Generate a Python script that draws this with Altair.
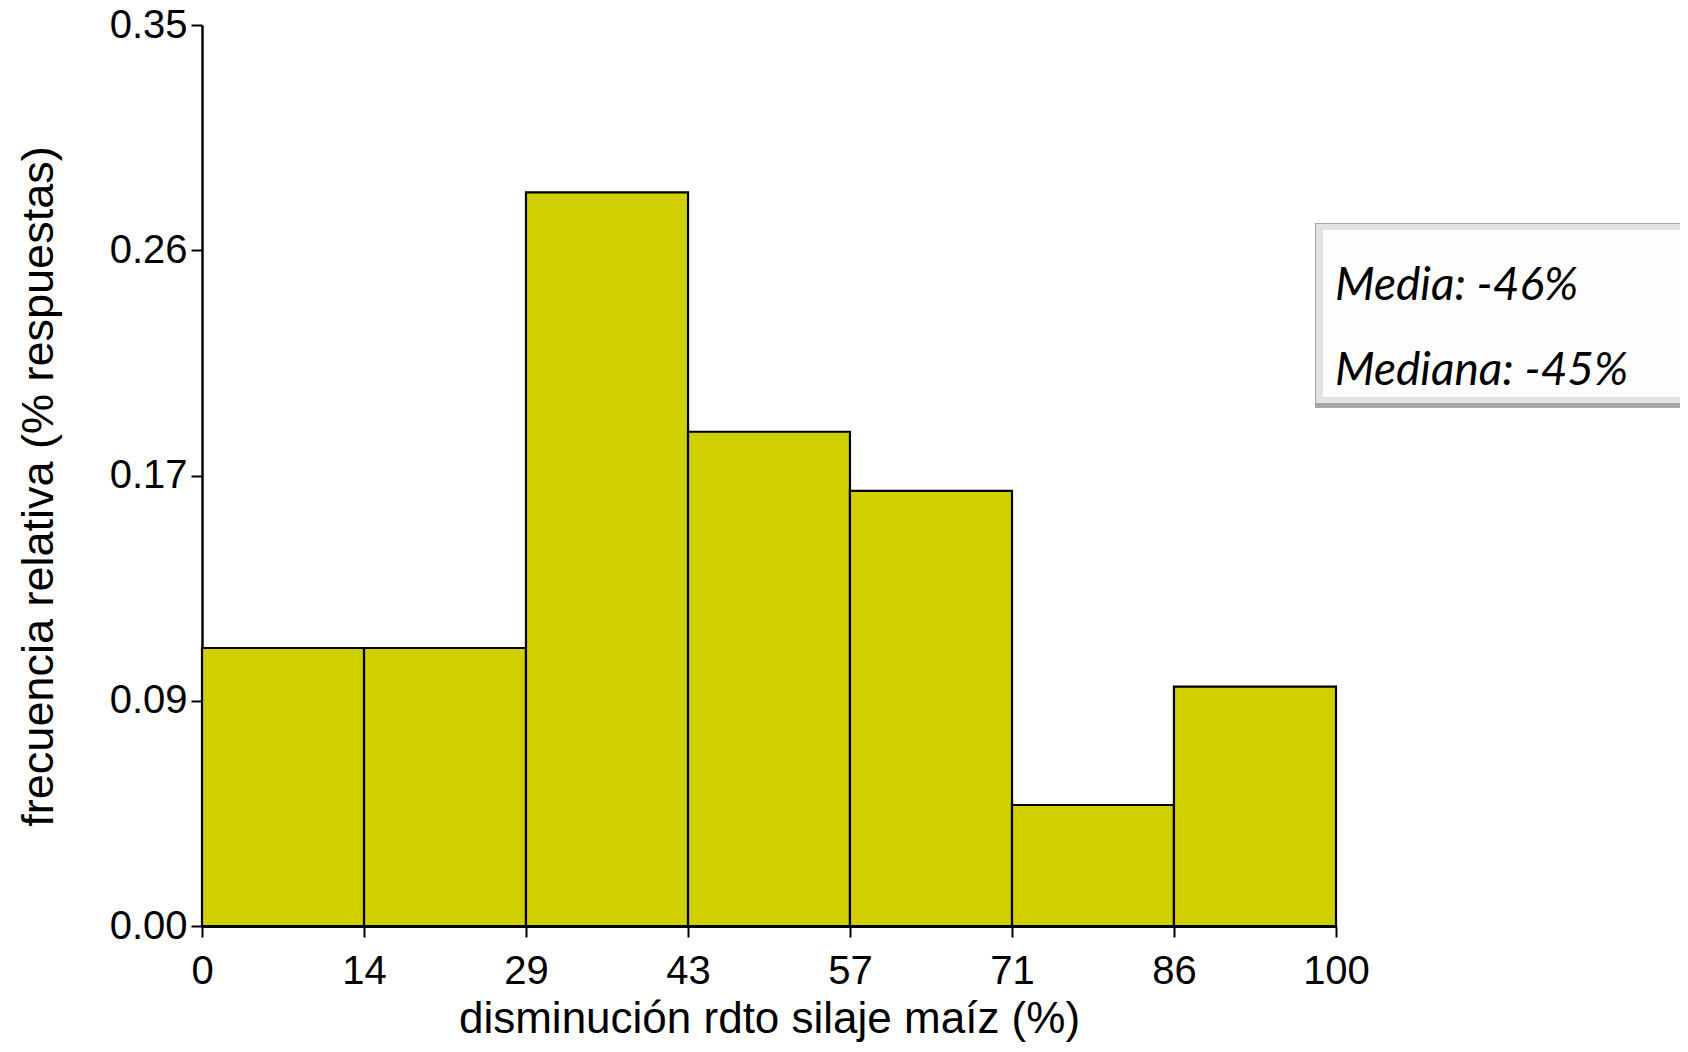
import json
import altair as alt
import pandas as pd

# ---- data ----
bin_edges = [0, 14.29, 28.57, 42.86, 57.14, 71.43, 85.71, 100]
rel_freq = [0.108, 0.108, 0.285, 0.192, 0.169, 0.047, 0.093]
x_ticks = [0, 14.29, 28.57, 42.86, 57.14, 71.43, 85.71, 100]
y_ticks = [0, 0.0875, 0.175, 0.2625, 0.35]
y_tick_labels = ["0.00", "0.09", "0.17", "0.26", "0.35"]
stats_text = ["Media: -46%", "Mediana: -45%"]
x_title = "disminución rdto silaje maíz (%)"
y_title = "frecuencia relativa (% respuestas)"

df = pd.DataFrame({"x0": bin_edges[:-1], "x1": bin_edges[1:], "f": rel_freq,
                   "base": [0.0] * len(rel_freq)})

W, H = 1134, 901
AXFONT = "Liberation Sans, Arial, sans-serif"
label_expr = json.dumps(y_tick_labels) + "[round(datum.value / 0.0875)]"

bars = alt.Chart(df).mark_rect(fill="#D0CF00", stroke="black", strokeWidth=2.2).encode(
    x=alt.X("x0:Q", scale=alt.Scale(domain=[0, 100], nice=False, zero=False),
            axis=alt.Axis(values=x_ticks, format=".0f", title=x_title, labelFlush=False,
                          domainWidth=3, titlePadding=6, labelPadding=14)),
    x2="x1:Q",
    y=alt.Y("f:Q", scale=alt.Scale(domain=[0, 0.35], nice=False),
            axis=alt.Axis(values=y_ticks, labelExpr=label_expr, title=y_title,
                          labelFlush=False, titleFontSize=45, titleY=461,
                          domainWidth=2.5, titlePadding=48, labelPadding=4)),
    y2="base:Q",
)

one = pd.DataFrame({"a": [0]})
box_outer = alt.Chart(one).mark_rect(fill="#A6A6A6").encode(
    x=alt.value(1113), x2=alt.value(1520), y=alt.value(198), y2=alt.value(383))
box_mid = alt.Chart(one).mark_rect(fill="#E2E2E2").encode(
    x=alt.value(1114), x2=alt.value(1520), y=alt.value(199), y2=alt.value(378))
box_inner = alt.Chart(one).mark_rect(fill="#FDFDFD").encode(
    x=alt.value(1121), x2=alt.value(1520), y=alt.value(205), y2=alt.value(372))

txt1 = alt.Chart(pd.DataFrame({"t": [stats_text[0]]})).mark_text(
    align="left", baseline="alphabetic", font="Lato", fontStyle="italic",
    fontSize=46, color="black").encode(
    x=alt.value(1133), y=alt.value(275), text="t:N")
txt2 = alt.Chart(pd.DataFrame({"t": [stats_text[1]]})).mark_text(
    align="left", baseline="alphabetic", font="Lato", fontStyle="italic",
    fontSize=46, color="black").encode(
    x=alt.value(1133), y=alt.value(360), text="t:N")

chart = alt.layer(bars, box_outer, box_mid, box_inner, txt1, txt2).properties(
    width=W, height=H,
    autosize=alt.AutoSizeParams(type="none"),
    padding={"left": 194, "top": 17, "right": 344, "bottom": 117},
).configure_view(stroke=None).configure_axis(
    grid=False, domainColor="black", tickColor="black", tickWidth=2, tickSize=11,
    labelFont=AXFONT, labelFontSize=40, labelColor="black",
    titleFont=AXFONT, titleFontSize=44, titleFontWeight="normal", titleColor="black",
)

chart.save("out.html", embed_options={"renderer": "svg", "actions": False})
